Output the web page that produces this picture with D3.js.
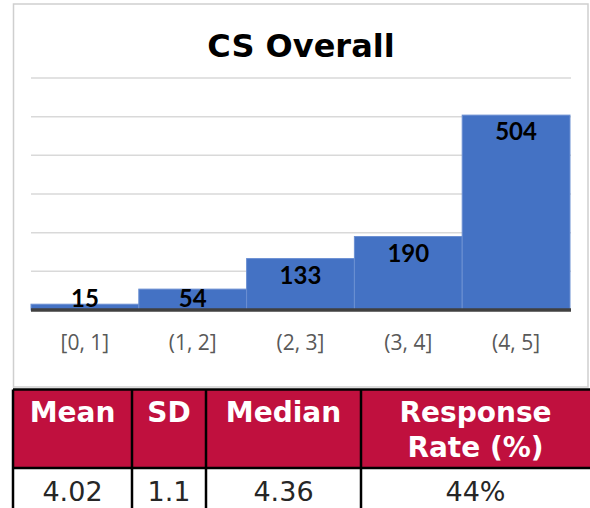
<!DOCTYPE html>
<html>
<head>
	<meta charset="utf-8">
	<script type="text/javascript" src="https://cdn.jsdelivr.net/npm/d3@7"></script>
	<title>CS Overall</title>
	<style>
		body { margin: 0; background: #fff; }
	</style>
</head>
<body>
	<script type="text/javascript">

	// chart data
	var categories = ["[0, 1]", "(1, 2]", "(2, 3]", "(3, 4]", "(4, 5]"];
	var counts = [15, 54, 133, 190, 504];
	var yTicks = [100, 200, 300, 400, 500, 600];

	// summary table
	var tableHeaders = [["Mean"], ["SD"], ["Median"], ["Response", "Rate (%)"]];
	var tableValues = ["4.02", "1.1", "4.36", "44%"];
	var columnEdges = [13, 132, 206, 361, 590];

	var widthSvg = 590;
	var heightSvg = 508;

	var svg = d3.select("body")
		.append("svg")
		.attr("width", widthSvg)
		.attr("height", heightSvg);

	var gothic = "'DejaVu Sans', sans-serif";

	// chart frame
	svg.append("rect")
		.attr("x", 13.5)
		.attr("y", 4)
		.attr("width", 574.5)
		.attr("height", 383)
		.attr("fill", "#fff")
		.attr("stroke", "#cfcfcf")
		.attr("stroke-width", 1.5);

	svg.append("text")
		.text("CS Overall")
		.attr("x", 301)
		.attr("y", 57)
		.attr("text-anchor", "middle")
		.attr("font-family", gothic)
		.attr("font-weight", "bold")
		.attr("font-size", 32)
		.attr("fill", "#000");

	var xScale = d3.scaleBand()
		.domain(categories)
		.range([31, 570])
		.paddingInner(0)
		.paddingOuter(0);

	var yScale = d3.scaleLinear()
		.domain([0, 600])
		.range([310, 78]);

	// gridlines
	svg.append("g")
		.selectAll("line")
		.data(yTicks)
		.enter()
		.append("line")
		.attr("x1", 31)
		.attr("x2", 571)
		.attr("y1", function(d) { return yScale(d); })
		.attr("y2", function(d) { return yScale(d); })
		.attr("stroke", "#d9d9d9")
		.attr("stroke-width", 1.5);

	// bars
	svg.append("g")
		.selectAll("rect")
		.data(counts)
		.enter()
		.append("rect")
		.attr("x", function(d, i) { return xScale(categories[i]); })
		.attr("y", function(d) { return yScale(d); })
		.attr("width", xScale.bandwidth())
		.attr("height", function(d) { return yScale(0) - yScale(d); })
		.attr("fill", "#4472C4")
		.attr("stroke", "#6b8fd2")
		.attr("stroke-width", 1);

	// baseline
	svg.append("line")
		.attr("x1", 31)
		.attr("x2", 571)
		.attr("y1", yScale(0))
		.attr("y2", yScale(0))
		.attr("stroke", "#404040")
		.attr("stroke-width", 3.5);

	// value labels, inside end, clamped to the base
	svg.append("g")
		.selectAll("text")
		.data(counts)
		.enter()
		.append("text")
		.text(function(d) { return d; })
		.attr("x", function(d, i) { return xScale(categories[i]) + xScale.bandwidth() / 2; })
		.attr("y", function(d) { return Math.min(yScale(d) + 25, yScale(0) - 3); })
		.attr("text-anchor", "middle")
		.attr("font-family", "Lato, sans-serif")
		.attr("font-weight", "bold")
		.attr("font-size", 24)
		.attr("fill", "#000");

	// category axis
	var xAxis = svg.append("g")
		.attr("transform", "translate(0," + yScale(0) + ")")
		.call(d3.axisBottom(xScale).tickSize(0).tickPadding(25));
	xAxis.select(".domain").remove();
	xAxis.selectAll("text")
		.attr("font-family", "'Open Sans', sans-serif")
		.attr("font-size", 21)
		.attr("fill", "#595959");

	// table
	var headTop = 389.5, headBottom = 468, bodyBottom = 515;
	var table = svg.append("g");

	table.append("rect")
		.attr("x", columnEdges[0])
		.attr("y", headTop)
		.attr("width", widthSvg + 10 - columnEdges[0])
		.attr("height", headBottom - headTop)
		.attr("fill", "#C0103E");

	var cells = table.selectAll("g.col")
		.data(tableHeaders)
		.enter()
		.append("g")
		.attr("class", "col");

	cells.each(function(lines, i) {
		var cx = (columnEdges[i] + columnEdges[i + 1]) / 2;
		var g = d3.select(this);
		lines.forEach(function(line, j) {
			g.append("text")
				.text(line)
				.attr("x", cx)
				.attr("y", 422 + j * 35)
				.attr("text-anchor", "middle")
				.attr("font-family", gothic)
				.attr("font-weight", "bold")
				.attr("font-size", 28)
				.attr("fill", "#fff");
		});
		g.append("text")
			.text(tableValues[i])
			.attr("x", cx)
			.attr("y", 501)
			.attr("text-anchor", "middle")
			.attr("font-family", gothic)
			.attr("font-size", 27)
			.attr("fill", "#262626");
	});

	// table borders
	var hLines = [headTop, headBottom];
	table.selectAll("line.h")
		.data(hLines)
		.enter()
		.append("line")
		.attr("x1", columnEdges[0])
		.attr("x2", widthSvg + 10)
		.attr("y1", function(d) { return d; })
		.attr("y2", function(d) { return d; })
		.attr("stroke", "#000")
		.attr("stroke-width", 2.5);

	table.selectAll("line.v")
		.data(columnEdges.slice(0, 4))
		.enter()
		.append("line")
		.attr("x1", function(d) { return d; })
		.attr("x2", function(d) { return d; })
		.attr("y1", headTop)
		.attr("y2", bodyBottom)
		.attr("stroke", "#000")
		.attr("stroke-width", 2.5);

	</script>
</body>
</html>
